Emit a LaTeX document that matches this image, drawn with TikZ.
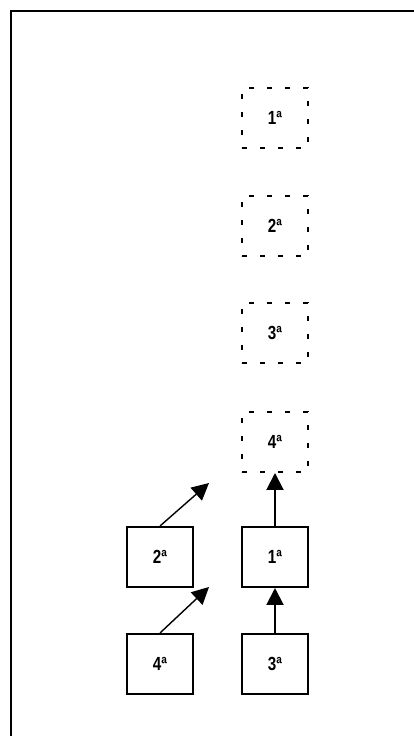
\documentclass[tikz,border=0pt]{standalone}
\usepackage{fontspec}
\setmainfont{Liberation Sans}[FakeStretch=0.8]
\usepackage{tikz}
\usetikzlibrary{positioning, arrows.meta}
\newcommand{\boxfont}{\fontsize{19}{21}\selectfont\bfseries}
\tikzset{
  slot/.style={draw, line width=2pt, dash pattern=on 5pt off 13pt, minimum width=66pt,
    minimum height=60pt, inner sep=0pt, font=\boxfont},
  piece/.style={draw, line width=2pt, minimum width=66pt, minimum height=60pt,
    inner sep=0pt, font=\boxfont},
  moveup/.style={-{Triangle[length=17pt,width=17pt]}, line width=2pt},
  movediag/.style={-{Triangle[length=17pt,width=17pt]}, line width=1.4pt},
}
\begin{document}
\begin{tikzpicture}[x=1pt, y=1pt]
  \useasboundingbox (0,0) rectangle (413,736);
  % outer frame, runs off the page on the right and below
  \draw[line width=2pt] (10.5,-20) -- (10.5,724.5) -- (440,724.5);
  % empty places
  \node[slot] (s1) at (275,618) {1ª};
  \node[slot, below=46pt of s1] (s2) {2ª};
  \node[slot, below=45pt of s2] (s3) {3ª};
  \node[slot, below=47pt of s3] (s4) {4ª};
  % pieces
  \node[piece] (p1) at (275,179) {1ª};
  \node[piece] (p2) at (160,179) {2ª};
  \node[piece] (p3) at (275,72) {3ª};
  \node[piece] (p4) at (160,72) {4ª};
  \coordinate (t2) at (209,253);
  \coordinate (t4) at (209,149);
  \draw[moveup] (p1.north) -- (s4.south);
  \draw[moveup] (p3.north) -- (p1.south);
  \draw[movediag] (p2.north) -- (t2);
  \draw[movediag] (p4.north) -- (t4);
\end{tikzpicture}
\end{document}
